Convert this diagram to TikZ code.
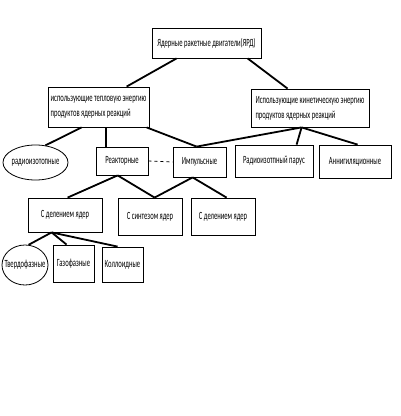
\documentclass[tikz,border=0pt]{standalone}
\usepackage{fontspec}
\setmainfont{Carlito}[FakeStretch=0.6]
\usetikzlibrary{shapes.geometric, positioning}

\tikzset{
  box/.style={draw, line width=0.8pt, inner sep=1pt, font=\fontsize{11}{15}\selectfont},
  oval/.style={box, ellipse},
  link/.style={line width=1.8pt},
}

\begin{document}
\begin{tikzpicture}[x=1pt,y=-1pt]
      \useasboundingbox (0,0) rectangle (400,416);
      \node[box, minimum width=109, minimum height=30] (Y) at (206.5,43) {Ядерные ракетные двигатели(ЯРД)};
      \node[box, minimum width=101, minimum height=40, align=left] (T) at (98.5,107) {использующие тепловую энергию\\продуктов ядерных реакций};
      \node[box, minimum width=118, minimum height=38, align=left] (K) at (310,108) {Использующие кинетическую энергию\\продуктов ядерных реакций};
      \node[oval, minimum width=65, minimum height=35] (Ri) at (35.5,162.5) {\makebox[0pt]{радиоизотопные}};
      \node[box, minimum width=52, minimum height=28] (Re) at (122,161) {Реакторные};
      \node[box, minimum width=53, minimum height=30] (I) at (199.5,162) {Импульсные};
      \node[box, minimum width=78, minimum height=32] (P) at (274,161) {Радиоизотпный парус};
      \node[box, minimum width=72, minimum height=33] (A) at (355,161.5) {Аннигиляционные};
      \node[box, minimum width=74, minimum height=34] (D1) at (65,215) {С делением ядер};
      \node[box, minimum width=64, minimum height=37] (S) at (150,216.5) {С синтезом ядер};
      \node[box, minimum width=64, minimum height=37] (D2) at (223,216.5) {С делением ядер};
      \node[oval, minimum width=46, minimum height=40] (F1) at (25,265) {\makebox[0pt]{Твердофазные}};
      \node[box, minimum width=41, minimum height=37] (F2) at (73.5,263.5) {Газофазные};
      \node[box, minimum width=41, minimum height=35] (F3) at (122.5,264.5) {Коллоидные};
      % upper links
      \draw[link] ([xshift=25pt]Y.south west) -- ([xshift=79pt]T.north west);
      \draw[link] ([xshift=96pt]Y.south west) -- ([xshift=37pt]K.north west);
      \draw[link] ([xshift=34pt]T.south west) -- (Ri.60);
      \draw[link] ([xshift=58pt]T.south west) -- ([xshift=10pt]Re.north west);
      \draw[link] ([xshift=99pt]T.south west) -- ([xshift=24pt]I.north west);
      \draw[link] ([xshift=51pt]K.south west) -- ([xshift=24pt]I.north west);
      \draw[link] ([xshift=51pt]K.south west) -- ([xshift=62pt]P.north west);
      \draw[link] ([xshift=51pt]K.south west) -- ([xshift=39pt]A.north west);
      \draw[dashed, line width=0.8pt] (Re.east) -- (I.west);
      % lower links
      \draw[link] ([xshift=22pt]Re.south west) -- ([xshift=40pt]D1.north west);
      \draw[link] ([xshift=22pt]Re.south west) -- ([xshift=37pt]S.north west);
      \draw[link] ([xshift=20pt]I.south west) -- ([xshift=37pt]S.north west);
      \draw[link] ([xshift=20pt]I.south west) -- ([xshift=36pt]D2.north west);
      \draw[link] ([xshift=24pt]D1.south west) -- (F1.80);
      \draw[link] ([xshift=24pt]D1.south west) -- ([xshift=14pt]F2.north west);
      \draw[link] ([xshift=24pt]D1.south west) -- ([xshift=16pt]F3.north west);
\end{tikzpicture}
\end{document}
